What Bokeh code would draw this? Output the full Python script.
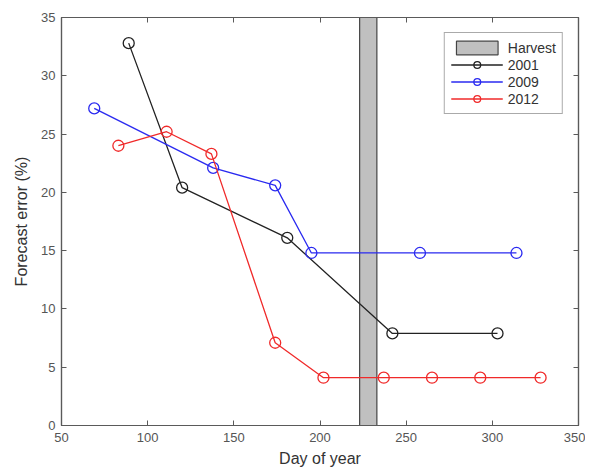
from bokeh.plotting import figure
from bokeh.models import Range1d, LinearAxis, FixedTicker, Legend, LegendItem
from bokeh.embed import file_html
from bokeh.resources import INLINE

# Data
day_2001 = [89, 120, 181, 242, 303]
err_2001 = [32.8, 20.4, 16.1, 7.9, 7.9]
day_2009 = [69, 138, 174, 195, 258, 314]
err_2009 = [27.2, 22.1, 20.6, 14.8, 14.8, 14.8]
day_2012 = [83, 111, 137, 174, 202, 237, 265, 293, 328]
err_2012 = [24.0, 25.2, 23.3, 7.1, 4.1, 4.1, 4.1, 4.1, 4.1]
harvest_start = [223]
harvest_end = [233]
x_ticks = [50, 100, 150, 200, 250, 300, 350]
y_ticks = [0, 5, 10, 15, 20, 25, 30, 35]

FONT = "Liberation Sans"
AX = "#5a5a5a"

p = figure(width=585, height=472, output_backend="svg",
           toolbar_location=None, x_range=Range1d(50, 350), y_range=Range1d(0, 35),
           min_border_left=61, min_border_top=17, min_border_right=7, min_border_bottom=47)
p.xgrid.visible = False
p.ygrid.visible = False
p.outline_line_color = AX
p.outline_line_width = 1.2
p.background_fill_color = "white"
p.border_fill_color = "white"

def style(ax, ticks, show_labels=True):
    ax.ticker = FixedTicker(ticks=ticks)
    ax.major_tick_in = 5
    ax.major_tick_out = 0
    ax.minor_tick_line_color = None
    ax.axis_line_color = AX
    ax.axis_line_width = 1.2
    ax.major_tick_line_color = AX
    ax.major_label_text_font = FONT
    ax.major_label_text_font_size = "13px"
    ax.major_label_text_color = "#555555"
    ax.axis_label_text_font = FONT
    ax.axis_label_text_font_size = "16px"
    ax.axis_label_text_font_style = "normal"
    ax.axis_label_text_color = "#333333"
    if not show_labels:
        ax.major_label_overrides = {t: "" for t in ticks}
        ax.major_label_standoff = 0

style(p.xaxis[0], x_ticks)
style(p.yaxis[0], y_ticks)
p.xaxis[0].axis_label = "Day of year"
p.yaxis[0].axis_label = "Forecast error (%)"
p.xaxis[0].major_label_standoff = 7
p.yaxis[0].major_label_standoff = 6
p.xaxis[0].axis_label_standoff = 5
p.yaxis[0].axis_label_standoff = 8

ax_top = LinearAxis()
style(ax_top, x_ticks, False)
p.add_layout(ax_top, "above")
ax_right = LinearAxis()
style(ax_right, y_ticks, False)
p.add_layout(ax_right, "right")

hv = p.quad(left=harvest_start, right=harvest_end, bottom=[0], top=[35],
            fill_color="#c0c0c0", line_color="#444444", line_width=1.2)

items = [LegendItem(label="Harvest", renderers=[hv])]
for xs, ys, col, lab in [(day_2001, err_2001, "#222222", "2001"),
                         (day_2009, err_2009, "#2a2af0", "2009"),
                         (day_2012, err_2012, "#f02a2a", "2012")]:
    l = p.line(xs, ys, line_color=col, line_width=1.3)
    c = p.scatter(xs, ys, marker="circle", size=11, fill_color=None,
                  line_color=col, line_width=1.3)
    items.append(LegendItem(label=lab, renderers=[l, c]))

leg = Legend(items=items, location="top_right")
leg.margin = 15
leg.padding = 6
leg.spacing = 0
leg.glyph_width = 52
leg.glyph_height = 17
leg.label_height = 17
leg.label_standoff = 5
leg.label_text_font = FONT
leg.label_text_font_size = "14px"
leg.label_text_color = "#333333"
leg.border_line_color = "#555555"
leg.border_line_width = 1.2
leg.background_fill_alpha = 1
p.add_layout(leg)

open("out.html", "w").write(file_html(p, INLINE))
